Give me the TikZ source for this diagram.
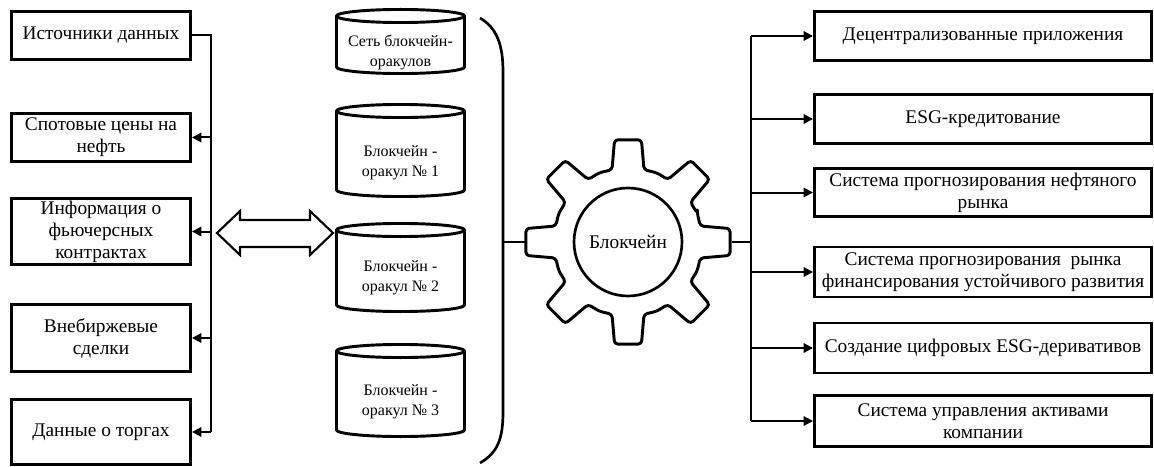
\documentclass[tikz,border=0pt]{standalone}
\usepackage{fontspec}
\setmainfont{Liberation Serif}
\usetikzlibrary{arrows.meta,calc}

\tikzset{
  box/.style={draw, line width=2.2pt, fill=white, align=center, inner sep=0pt,
    font=\fontsize{14.5}{16.5}\selectfont},
  conn/.style={line width=1.5pt},
  tipped/.style={conn, -{Triangle[length=7pt,width=7pt]}},
  outline/.style={line width=2.2pt, line join=round},
  drumtext/.style={align=center, font=\fontsize{12}{15}\selectfont},
}

\begin{document}
\begin{tikzpicture}[x=0.75pt,y=-0.75pt]
\useasboundingbox[fill=white] (0,0) rectangle (1154,467);

% ---- data sources (left column) ----
\node[box, minimum width=134.25pt, minimum height=36pt]   (L1) at (101,35.5) {Источники данных};
\node[box, minimum width=134.25pt, minimum height=36pt]   (L2) at (101,137.5) {Спотовые цены на\\нефть};
\node[box, minimum width=134.25pt, minimum height=49.5pt] (L3) at (101,231.5) {Информация о\\фьючерсных\\контрактах};
\node[box, minimum width=134.25pt, minimum height=50.25pt](L4) at (101,338) {Внебиржевые\\сделки};
\node[box, minimum width=134.25pt, minimum height=48.75pt](L5) at (101,432) {Данные о торгах};

\coordinate (busL) at (211,0);
\draw[conn] (L1.east) -- (L1.east -| busL) -- (L5.east -| busL);
\foreach \i in {2,...,5}
  \draw[tipped] (L\i.east -| busL) -- (L\i.east);

% ---- two-way exchange arrow ----
\draw[line width=1.6pt, line join=miter, fill=white]
  (217,233) -- (240,211) -- (240,220) -- (310,220) -- (310,211) -- (333,233)
  -- (310,255) -- (310,247) -- (240,247) -- (240,255) -- cycle;

% ---- oracle drums ----
\foreach \n/\t/\b/\ty/\txt in {
  D1/16/67/53/{Сеть блокчейн-\\оракулов},
  D2/111/190/163/{Блокчейн -\\оракул № 1},
  D3/230/305/278/{Блокчейн -\\оракул № 2},
  D4/351/430/402/{Блокчейн -\\оракул № 3}}{
  \draw[outline, fill=white] (336.5,\t) -- (336.5,\b)
    arc[start angle=180, end angle=360, x radius=48pt, y radius=4.9pt]
    -- (464.5,\t)
    arc[start angle=0, end angle=180, x radius=48pt, y radius=4.9pt] -- cycle;
  \draw[outline] (336.5,\t)
    arc[start angle=180, end angle=360, x radius=48pt, y radius=4.9pt];
  \node[drumtext] (\n) at (400.5,\ty) {\txt};
}

% ---- brace grouping the oracles ----
\draw[line width=2pt] (480,18) .. controls (497,28) and (503,45) .. (503,72)
  -- (503,412) .. controls (503,440) and (497,453) .. (480,463);
\coordinate (brk) at (503,242);

% ---- gear ----
\begin{scope}[shift={(628,242)}]
  \draw[outline, fill=white, rounded corners=2.5pt] (-22.5:75)
    \foreach \a in {0,45,...,315} {
      -- ({\a-12.5}:74) -- ({\a-7.5}:103) -- ({\a+7.5}:103) -- ({\a+12.5}:74)
      -- ({\a+22.5}:75)
    } -- cycle;
\end{scope}
\node[circle, draw, line width=2pt, minimum size=81pt, inner sep=0pt,
  font=\fontsize{14.5}{16}\selectfont] (G) at (628,242) {Блокчейн};
\coordinate (gL) at (525,242);
\coordinate (gR) at (732,242);
\coordinate (busR) at (751,0);
\draw[conn] (brk) -- (gL);
\draw[conn] (gR) -- (gR -| busR);

% ---- applications (right column) ----
\node[box, minimum width=252.75pt, minimum height=36.75pt] (R1) at (983,36) {Децентрализованные приложения};
\node[box, minimum width=252.75pt, minimum height=36.75pt] (R2) at (983,119) {ESG-кредитование};
\node[box, minimum width=252.75pt, minimum height=36pt]    (R3) at (983,192.5) {Система прогнозирования нефтяного\\рынка};
\node[box, minimum width=252.75pt, minimum height=37.5pt]  (R4) at (983,272) {Система прогнозирования\ \ рынка\\финансирования устойчивого развития};
\node[box, minimum width=252.75pt, minimum height=37.5pt]  (R5) at (983,348) {Создание цифровых ESG-деривативов};
\node[box, minimum width=252.75pt, minimum height=38.25pt] (R6) at (983,421) {Система управления активами\\компании};

\draw[conn] (R1.west -| busR) -- (R6.west -| busR);
\foreach \i in {1,...,6}
  \draw[tipped] (R\i.west -| busR) -- (R\i.west);
\end{tikzpicture}
\end{document}
